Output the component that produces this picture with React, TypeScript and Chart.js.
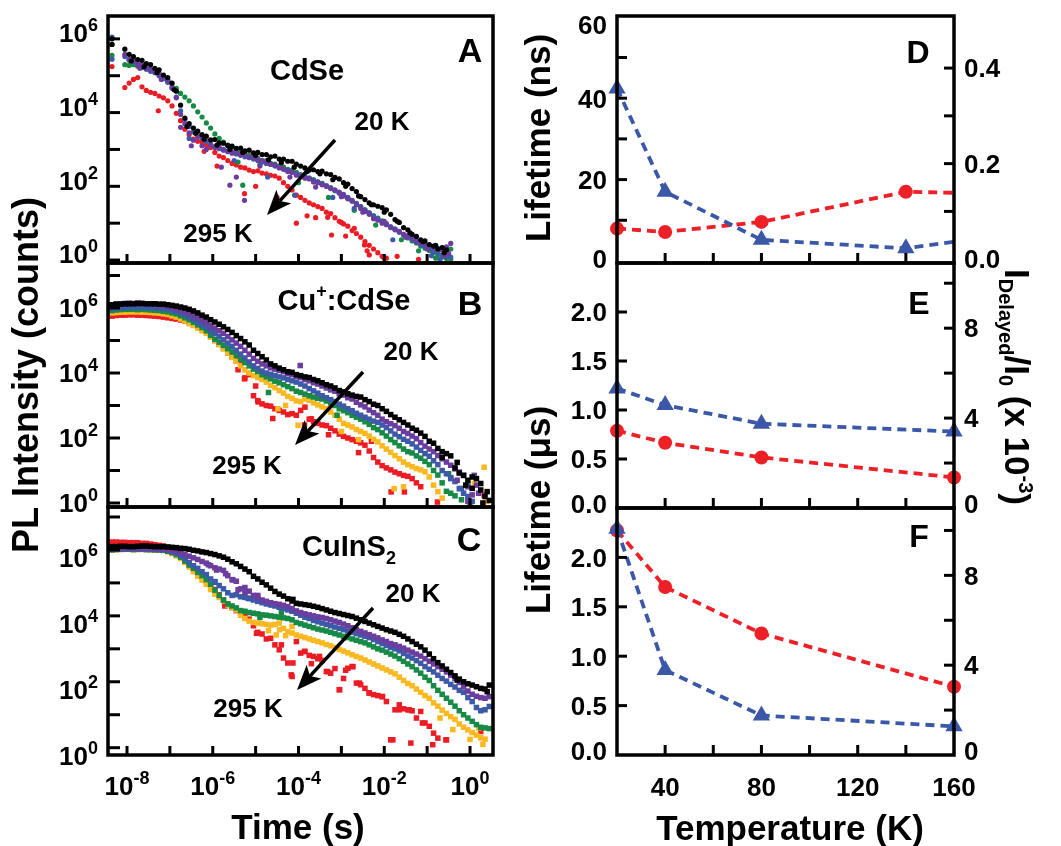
import React, { useEffect, useRef } from 'react';
import { Chart, registerables } from 'chart.js';

Chart.register(...registerables);

const W = 1061;
const H = 846;
const FONT = '"Liberation Sans", Arial, Helvetica, sans-serif';

const COL = {
  black: '#000000',
  purple: '#6a3d9e',
  blue: '#3d5aa9',
  green: '#178a45',
  yellow: '#fbb820',
  red: '#ec1c24',
};
const RED = '#ee2027';
const BLUE = '#3b58a8';

// ---------- time grid (log10 of seconds) shared by panels A-C ----------
const GRID_LOG_T = [-8.35,-8.25,-8.15,-8.05,-7.95,-7.85,-7.75,-7.65,-7.55,-7.45,-7.35,-7.25,-7.15,-7.05,-6.95,-6.85,-6.75,-6.65,-6.55,-6.45,-6.35,-6.25,-6.15,-6.05,-5.95,-5.85,-5.75,-5.65,-5.55,-5.45,-5.35,-5.25,-5.15,-5.05,-4.95,-4.85,-4.75,-4.65,-4.55,-4.45,-4.35,-4.25,-4.15,-4.05,-3.95,-3.85,-3.75,-3.65,-3.55,-3.45,-3.35,-3.25,-3.15,-3.05,-2.95,-2.85,-2.75,-2.65,-2.55,-2.45,-2.35,-2.25,-2.15,-2.05,-1.95,-1.85,-1.75,-1.65,-1.55,-1.45,-1.35,-1.25,-1.15,-1.05,-0.95,-0.85,-0.75,-0.65,-0.55,-0.45,-0.35,-0.25,-0.15,-0.05,0.05,0.15,0.25,0.35,0.45];

// ---------- Panel A: CdSe, log10(counts) ----------
const A_BLACK = [6.00,null,null,5.72,5.58,5.52,5.44,5.42,5.33,5.30,
  5.20,5.16,5.02,4.95,4.80,4.58,4.20,3.85,3.70,3.58,
  3.50,3.40,3.36,3.26,3.27,3.18,3.17,3.11,3.09,3.03,
  3.04,2.96,2.98,2.91,2.92,2.86,2.86,2.80,2.82,2.74,
  2.74,2.68,2.68,2.60,2.55,2.50,2.44,2.45,2.40,2.41,
  2.34,2.32,2.24,2.20,2.10,2.06,1.94,1.86,1.72,1.64,
  1.55,1.50,1.46,1.42,1.36,1.24,1.10,1.02,0.88,0.82,
  0.70,0.64,0.55,0.52,0.42,0.38,0.30,0.34,0.28];
const A_BLACK_EXTRA = [[-8.35,5.85],[-7.90,5.40],[-7.60,5.24],[-7.30,5.08],[-6.90,4.62],[-6.60,3.62],[-6.40,3.44],[-6.20,3.28],[-5.90,3.12],[-5.60,3.00],[-5.30,2.92],[-5.00,2.84],[-4.70,2.72],[-4.40,2.64],[-4.10,2.52],[-3.80,2.40],[-3.50,2.34],[-3.20,2.18],[-2.90,2.00],[-2.60,1.74],[-2.30,1.50],[-2.00,1.30],[-1.70,1.05],[-1.40,0.74],[-1.10,0.50],[-0.80,0.40],[-0.60,0.20]];

const A_PURPLE = [5.85,null,null,5.58,5.45,5.40,5.30,5.30,5.20,5.18,
  5.10,5.05,4.96,4.88,4.70,4.40,3.95,3.70,3.45,3.25,
  3.35,3.10,3.00,3.12,3.05,3.08,2.98,2.96,2.90,2.92,
  2.84,2.86,2.78,2.80,2.72,2.70,2.66,2.60,2.58,2.50,
  2.48,2.40,2.38,2.30,2.28,2.22,2.20,2.12,2.10,2.04,
  2.00,1.94,1.90,1.82,1.76,1.66,1.60,1.50,1.40,1.32,
  1.24,1.12,1.08,1.00,0.96,0.88,0.82,0.78,0.70,0.66,
  0.60,0.52,0.48,0.44,0.40,0.34,0.32,0.28,0.36,0.45];
const A_PURPLE_EXTRA = [[-5.26,1.62],[-5.45,2.25],[-5.60,2.03],[-5.80,2.52],[-6.50,3.10],[-6.75,3.60],[-4.90,2.55],[-4.20,2.25],[-3.60,1.98],[-3.00,1.72],[-2.50,1.30],[-2.00,1.05],[-1.50,0.62],[-1.00,0.30],[-0.60,0.12],[-0.50,0.18],[-7.70,5.20],[-7.20,4.90]];

const A_BLUE = [5.45,null,null,5.52,5.42,5.38,5.32,5.24,5.18,5.12,
  5.08,5.00,4.92,4.82,4.66,4.42,4.05,3.82,3.62,3.48,
  3.38,3.30,3.22,3.15,3.08,3.02,3.00,2.94,2.92,2.88,
  2.86,2.80,2.78,2.74,2.70,2.66,2.62,2.60,2.55,2.52,
  2.46,2.44,2.38,2.34,2.30,2.24,2.22,2.16,2.12,2.06,
  2.02,1.96,1.90,1.84,1.78,1.70,1.62,1.54,1.45,1.36,
  1.28,1.20,1.12,1.04,0.98,0.90,0.84,0.76,0.70,0.62,
  0.56,0.48,0.42,0.36,0.30,0.24,0.20,0.14,0.10,0.08];
const A_BLUE_EXTRA = [[-8.35,6.05],[-4.72,2.25],[-4.09,1.76],[-3.20,1.70],[-1.80,0.55],[-0.90,0.12],[-6.55,3.30],[-5.50,2.70],[-2.70,1.40],[-0.70,0.02]];

const A_GREEN = [5.55,null,null,5.30,5.28,5.30,5.26,5.22,5.18,5.14,
  5.10,5.05,4.98,4.88,4.78,4.66,4.52,4.42,4.32,4.18,
  4.02,3.88,3.72,3.58,3.42,3.30,3.20,3.12,3.06,3.00,
  2.92,2.86,2.84,2.78,2.76,2.70,2.70,2.62,2.60,2.55,
  2.52,2.46,2.44,2.38,2.32,2.28,2.22,2.18,2.12,2.08,
  2.00,1.96,1.88,1.82,1.74,1.68,1.60,1.52,1.45,1.36,
  1.28,1.20,1.14,1.06,0.98,0.90,0.84,0.76,0.68,0.60,
  0.52,0.46,0.38,0.32,0.26,0.20,0.14,0.08,0.04,0.02];
const A_GREEN_EXTRA = [[-5.30,2.03],[-5.41,2.66],[-4.90,2.60],[-4.00,2.10],[-3.30,1.70],[-2.70,1.35],[-2.20,0.95],[-1.60,0.55],[-1.20,0.25],[-0.80,0.05],[-0.45,0.30]];

const A_RED = [5.25,null,null,4.68,4.80,4.90,4.95,4.70,4.60,4.55,
  4.52,4.45,4.40,4.32,4.18,3.98,3.78,3.55,3.40,3.28,
  3.22,3.20,3.12,3.05,2.92,2.82,2.78,2.70,2.62,2.58,
  2.52,2.50,2.44,2.40,2.42,2.36,2.34,2.30,2.28,2.22,
  2.10,2.00,1.90,1.76,1.70,1.62,1.55,1.50,1.45,1.40,
  1.30,1.26,1.15,1.05,0.98,0.92,0.80,0.72,0.62,0.50,
  0.40,0.30,0.20,0.10,0.05];
const A_RED_EXTRA = [[-7.27,4.05],[-5.26,1.80],[-4.05,1.00],[-3.23,0.68],[-5.00,2.00],[-4.50,1.70],[-3.80,1.20],[-3.00,1.02],[-2.40,0.25],[-2.00,0.05],[-1.70,0.10],[-6.20,2.95],[-5.90,2.55],[-4.30,2.45],[-3.60,1.15],[-2.90,0.65],[-3.32,1.16],[-2.70,0.86],[-2.46,0.41],[-2.35,0.14],[-1.20,0.02]];

// ---------- Panel B: Cu+:CdSe ----------
const B_BLACK = [6.10,6.12,6.12,6.13,6.13,6.13,6.14,6.14,6.13,6.13,
  6.13,6.12,6.12,6.10,6.08,6.06,6.03,6.00,5.96,5.91,
  5.85,5.78,5.72,5.64,5.57,5.50,5.42,5.34,5.25,5.15,
  5.06,4.96,4.86,4.70,4.60,4.50,4.40,4.28,4.22,4.15,
  4.10,4.04,4.02,3.95,3.92,3.88,3.86,3.80,3.76,3.70,
  3.64,3.60,3.54,3.46,3.42,3.36,3.32,3.28,3.26,3.18,
  3.12,3.04,3.00,2.90,2.82,2.72,2.64,2.56,2.48,2.40,
  2.30,2.24,2.15,2.05,1.90,1.84,1.68,1.58,1.52,1.45,
  1.08,0.92,0.85,0.70,0.45,0.75,0.40,0.20,0.08];
const B_BLACK_EXTRA = [[-0.30,1.25],[-0.10,0.55],[0.05,0.80],[0.25,0.60],[0.40,0.35],[0.30,0.00],[-0.65,1.40]];

const B_PURPLE = [6.10,6.12,6.13,6.14,6.15,6.14,6.15,6.14,6.13,6.12,
  6.12,6.10,6.08,6.05,6.02,5.98,5.93,5.88,5.82,5.76,
  5.70,5.62,5.55,5.46,5.38,5.30,5.22,5.12,5.02,4.92,
  4.82,4.70,4.58,4.45,4.36,4.28,4.22,4.16,4.12,4.08,
  4.04,3.98,3.95,3.90,3.86,3.80,3.76,3.70,3.66,3.60,
  3.54,3.48,3.44,3.36,3.32,3.24,3.20,3.10,3.02,2.96,
  2.86,2.78,2.70,2.58,2.50,2.44,2.38,2.30,2.20,2.14,
  2.06,1.98,1.86,1.75,1.66,1.58,1.46,1.36,1.26,1.16,
  1.05,0.95,0.85,0.50,0.25,0.55];
const B_PURPLE_EXTRA = [[-3.96,4.23],[-0.30,0.70],[0.10,0.85],[-0.05,0.05],[0.20,0.30]];

const B_BLUE = [5.98,6.00,6.01,6.02,6.02,6.03,6.02,6.03,6.02,6.01,
  6.00,5.99,5.98,5.96,5.93,5.90,5.85,5.80,5.72,5.65,
  5.56,5.48,5.40,5.30,5.22,5.12,5.02,4.92,4.82,4.70,
  4.58,4.46,4.34,4.22,4.14,4.06,4.00,3.96,3.92,3.88,
  3.85,3.80,3.76,3.72,3.66,3.60,3.52,3.45,3.38,3.30,
  3.24,3.18,3.12,3.04,2.98,2.90,2.84,2.76,2.70,2.64,
  2.58,2.52,2.48,2.40,2.32,2.22,2.12,2.04,1.96,1.90,
  1.82,1.72,1.62,1.52,1.44,1.30,1.18,1.00,0.90,0.78,
  0.66,0.44,0.30,0.20,0.05];
const B_BLUE_EXTRA = [[-0.45,0.75],[-0.20,0.45]];

const B_GREEN = [5.92,5.94,5.95,5.96,5.96,5.96,5.95,5.96,5.95,5.94,
  5.93,5.92,5.90,5.88,5.85,5.82,5.76,5.70,5.64,5.56,
  5.48,5.40,5.30,5.16,5.04,4.95,4.85,4.75,4.65,4.54,
  4.42,4.32,4.22,4.12,4.04,3.95,3.88,3.82,3.75,3.70,
  3.64,3.58,3.52,3.44,3.40,3.35,3.30,3.26,3.22,3.20,
  3.14,3.08,3.00,2.90,2.84,2.78,2.70,2.64,2.58,2.50,
  2.42,2.32,2.26,2.16,2.06,1.95,1.86,1.76,1.66,1.58,
  1.54,1.45,1.38,1.28,1.18,1.00,0.86,0.62,0.36,0.30,
  0.22];
const B_GREEN_EXTRA = [[-0.20,0.10],[-0.05,0.55],[0.00,0.00],[-0.50,0.90],[-4.70,3.40],[-3.10,2.70]];

const B_YELLOW = [5.85,5.86,5.87,5.87,5.88,5.88,5.88,5.87,5.87,5.86,
  5.85,5.84,5.82,5.80,5.76,5.72,5.66,5.60,5.52,5.46,
  5.38,5.30,5.22,5.10,5.00,4.88,4.74,4.62,4.48,4.36,
  4.22,4.10,4.00,3.92,3.86,3.80,3.72,3.62,3.55,3.46,
  3.38,3.28,3.22,3.14,3.12,3.20,3.16,3.08,3.02,2.96,
  2.90,2.80,2.70,2.58,2.45,2.40,2.34,2.26,2.20,2.14,
  2.06,1.96,1.88,1.76,1.66,1.56,1.46,1.36,1.26,1.18,
  1.12,1.06,1.02,0.96,0.80,0.55,0.35,0.15];
const B_YELLOW_EXTRA = [[-4.48,2.90],[-4.01,2.39],[-1.77,0.44],[-1.55,0.50],[0.33,1.10],[0.40,0.05],[-3.00,2.20],[-2.60,1.95],[0.10,0.60],[-4.30,3.00]];

const B_RED = [5.75,5.77,5.78,5.78,5.79,5.79,5.78,5.78,5.77,5.76,
  5.75,5.74,5.72,5.70,5.68,5.66,5.63,5.60,5.56,5.48,
  5.42,5.36,5.28,5.12,5.00,4.88,4.76,4.62,4.50,4.38,
  4.30,3.85,3.95,3.30,3.15,3.05,3.00,2.98,2.90,2.85,
  2.80,2.72,2.75,2.70,2.85,2.95,2.58,2.50,2.45,2.40,
  2.38,2.30,2.22,2.12,2.05,2.00,1.95,1.90,1.85,1.78,
  1.60,1.40,1.26,1.15,1.08,1.02,0.95,0.90,0.85,0.82,
  0.75,0.62,0.50];
const B_RED_EXTRA = [[-5.26,3.82],[-5.41,4.10],[-5.00,3.60],[-4.60,2.60],[-3.70,2.59],[-3.30,2.10],[-1.84,0.34],[-1.53,0.34],[-0.76,0.03],[0.33,0.24],[-2.30,1.90],[-2.60,1.55],[-4.94,3.11],[-3.86,2.40]];

// ---------- Panel C: CuInS2 ----------
const C_BLACK = [6.10,6.10,6.11,6.11,6.10,6.10,6.11,6.12,6.12,6.11,
  6.10,6.10,6.10,6.09,6.08,6.07,6.05,6.04,6.02,5.99,
  5.97,5.94,5.92,5.89,5.86,5.82,5.78,5.72,5.64,5.58,
  5.50,5.42,5.34,5.20,5.12,5.02,4.94,4.84,4.74,4.66,
  4.60,4.52,4.45,4.38,4.36,4.34,4.32,4.29,4.26,4.22,
  4.18,4.14,4.10,4.07,4.04,4.01,3.98,3.93,3.88,3.83,
  3.78,3.73,3.68,3.63,3.58,3.54,3.50,3.44,3.38,3.30,
  3.22,3.14,3.06,2.96,2.84,2.70,2.58,2.48,2.38,2.28,
  2.18,2.08,2.00,1.94,1.90,1.85,1.80,1.78,1.90];
const C_BLACK_EXTRA = [[-4.13,4.50],[-0.30,2.05],[0.40,1.70]];

const C_PURPLE = [6.04,6.05,6.05,6.06,6.05,6.05,6.06,6.05,6.05,6.05,
  6.04,6.04,6.03,6.02,5.99,5.96,5.91,5.86,5.81,5.76,
  5.71,5.65,5.60,5.52,5.46,5.42,5.38,5.22,5.10,5.05,
  4.82,4.86,4.75,4.62,4.56,4.48,4.44,4.40,4.37,4.35,
  4.32,4.28,4.22,4.15,4.10,4.06,4.03,4.00,3.97,3.95,
  3.92,3.88,3.84,3.80,3.75,3.70,3.64,3.58,3.53,3.48,
  3.43,3.38,3.33,3.27,3.22,3.16,3.12,3.07,3.02,2.96,
  2.90,2.84,2.78,2.70,2.62,2.54,2.46,2.38,2.30,2.20,
  2.10,1.98,1.85,1.72,1.62,1.56,1.52,1.50,1.55];
const C_PURPLE_EXTRA = [[-5.91,5.39],[-5.53,5.09],[-5.41,4.79],[-5.25,4.70],[-4.95,4.62],[-6.10,5.55],[-5.70,5.28]];

const C_BLUE = [6.02,6.03,6.03,6.03,6.04,6.03,6.03,6.03,6.02,6.02,
  6.02,6.01,6.00,5.98,5.95,5.90,5.84,5.74,5.62,5.52,
  5.44,5.34,5.25,5.12,5.02,4.92,4.82,4.70,4.62,4.64,
  4.58,4.56,4.52,4.48,4.44,4.40,4.36,4.34,4.30,4.26,
  4.22,4.18,4.14,4.08,4.02,3.96,3.92,3.86,3.82,3.78,
  3.74,3.70,3.66,3.62,3.58,3.54,3.50,3.46,3.42,3.38,
  3.34,3.28,3.22,3.16,3.10,3.04,3.00,2.94,2.86,2.78,
  2.72,2.64,2.56,2.46,2.38,2.30,2.20,2.10,2.02,1.92,
  1.84,1.74,1.68,1.52,1.40,1.22,1.12,1.15,1.25];
const C_BLUE_EXTRA = [[-5.95,5.04],[-5.18,4.54],[-4.63,4.33]];

const C_GREEN = [6.00,6.01,6.02,6.02,6.02,6.01,6.02,6.02,6.01,6.01,
  6.00,6.00,5.99,5.96,5.92,5.86,5.78,5.66,5.54,5.44,
  5.32,5.22,5.10,4.96,4.78,4.62,4.48,4.36,4.30,4.24,
  4.16,4.14,4.10,4.08,4.06,4.03,4.02,4.00,3.98,3.96,
  3.94,3.92,3.88,3.80,3.76,3.72,3.68,3.64,3.60,3.57,
  3.54,3.50,3.46,3.42,3.38,3.34,3.30,3.26,3.22,3.18,
  3.12,3.06,3.00,2.96,2.90,2.84,2.78,2.70,2.62,2.54,
  2.46,2.36,2.26,2.14,2.04,1.88,1.74,1.62,1.50,1.38,
  1.26,1.12,1.00,0.90,0.80,0.70,0.62,0.60,0.58];
const C_GREEN_EXTRA = [[-4.40,4.10],[-4.90,3.95]];

const C_YELLOW = [6.00,6.01,6.01,6.02,6.02,6.01,6.01,6.02,6.01,6.00,
  6.00,5.99,5.98,5.94,5.89,5.82,5.74,5.62,5.48,5.34,
  5.20,5.08,4.96,4.80,4.66,4.56,4.46,4.33,4.26,4.18,
  4.02,3.92,3.84,3.80,3.78,3.76,3.74,3.72,3.74,3.78,
  3.62,3.52,3.48,3.42,3.38,3.34,3.30,3.26,3.22,3.18,
  3.13,3.09,3.04,2.98,2.93,2.88,2.82,2.77,2.72,2.66,
  2.60,2.54,2.48,2.42,2.36,2.30,2.24,2.14,2.04,1.95,
  1.88,1.78,1.68,1.58,1.50,1.36,1.26,1.14,1.04,0.94,
  0.86,0.72,0.62,0.54,0.46,0.38,0.30,0.26];
const C_YELLOW_EXTRA = [[-4.52,3.42],[-4.44,3.58],[-4.30,3.40],[-0.40,0.55],[0.00,0.25],[0.30,0.10],[0.20,0.60],[-0.70,0.90],[-4.70,3.55],[-4.15,3.68]];

const C_RED = [6.24,6.24,6.23,6.23,6.22,6.22,6.22,6.20,6.20,6.18,
  6.16,6.14,6.12,6.08,6.02,5.95,5.86,5.72,5.56,5.44,
  5.32,5.18,5.04,4.94,4.80,4.64,4.48,4.36,4.25,4.16,
  4.08,3.98,3.90,3.70,3.50,3.45,3.30,3.32,3.12,2.97,
  2.72,2.57,2.16,3.22,2.87,2.92,2.80,2.77,2.70,2.65,
  2.31,2.26,2.40,1.76,2.10,2.41,2.46,1.96,1.91,1.80,
  1.66,1.61,1.58,1.55,1.40,0.24,1.15,1.30,1.18,1.15,
  1.12,0.90,1.10,0.75,0.65,0.44,0.29,null,0.24];
const C_RED_EXTRA = [[-5.72,4.30],[-4.98,3.47],[-4.40,3.12],[-4.17,2.21],[-3.86,2.92],[-3.51,2.77],[-3.32,2.31],[-3.04,1.76],[-2.73,2.46],[-2.58,1.96],[-2.35,1.66],[-2.04,1.55],[-1.80,0.24],[-1.38,0.14],[-0.87,0.09],[-0.56,0.24],[0.25,0.49],[-1.11,0.75],[-2.90,2.35],[-3.70,2.55],[-4.13,2.57],[-1.65,1.15],[-1.42,1.15]];

// ---------- Panels D-F: temperature dependence ----------
const D_TEMPS = [20, 40, 80, 140, 160];
const D_LIFETIME_NS = [42.4, 17.0, 5.2, 3.1, 4.7];
const D_RATIO = [0.064, 0.057, 0.078, 0.141, 0.139];
const EF_TEMPS = [20, 40, 80, 160];
const E_LIFETIME_US = [1.22, 1.05, 0.86, 0.78];
const E_RATIO = [3.44, 2.90, 2.25, 1.36];
const F_LIFETIME_US = [2.29, 0.86, 0.40, 0.29];
const F_RATIO = [10.0, 7.48, 5.41, 3.04];

// tick values
const LOG_X_TICKS = [-8, -7, -6, -5, -4, -3, -2, -1, 0];
const LOG_X_LABELS = [-8, -6, -4, -2, 0];
const LOG_Y_LABELS = [0, 2, 4, 6];
const T_TICKS = [40, 60, 80, 100, 120, 140];
const T_LABELS = [40, 80, 120, 160];

const X_MIN_EXP = -8.443;
const X_MAX_EXP = 0.536;

// ---------- drawing helpers ----------
type Part = { t: string; s: number; dy?: number };

function drawRich(ctx: CanvasRenderingContext2D, parts: Part[], cx: number, cy: number, rot: number, base: number, align = 'center') {
  ctx.save();
  ctx.translate(cx, cy);
  ctx.rotate(rot);
  let total = 0;
  const widths: number[] = [];
  for (const p of parts) {
    ctx.font = `bold ${p.s}px ${FONT}`;
    const w = ctx.measureText(p.t).width;
    widths.push(w);
    total += w;
  }
  let x = align === 'center' ? -total / 2 : align === 'right' ? -total : 0;
  ctx.fillStyle = '#000';
  ctx.textAlign = 'left';
  ctx.textBaseline = 'alphabetic';
  parts.forEach((p, i) => {
    ctx.font = `bold ${p.s}px ${FONT}`;
    ctx.fillText(p.t, x, 0.358 * base + (p.dy || 0));
    x += widths[i];
  });
  ctx.restore();
}

function txt(ctx: CanvasRenderingContext2D, s: string, x: number, y: number, size: number, align = 'center') {
  drawRich(ctx, [{ t: s, s: size }], x, y, 0, size, align);
}

function pow10(ctx: CanvasRenderingContext2D, e: number, x: number, y: number, align: string) {
  drawRich(ctx, [{ t: '10', s: 26 }, { t: String(e), s: 18, dy: -11 }], x, y, 0, 26, align);
}

function line(ctx: CanvasRenderingContext2D, x1: number, y1: number, x2: number, y2: number) {
  ctx.beginPath();
  ctx.moveTo(x1, y1);
  ctx.lineTo(x2, y2);
  ctx.stroke();
}

function arrow(ctx: CanvasRenderingContext2D, x1: number, y1: number, x2: number, y2: number) {
  const a = Math.atan2(y2 - y1, x2 - x1);
  const c = Math.cos(a), s = Math.sin(a);
  const L = 25, Wd = 10;
  ctx.save();
  ctx.strokeStyle = '#000';
  ctx.fillStyle = '#000';
  ctx.lineWidth = 3.5;
  line(ctx, x1, y1, x2 - (L - 6) * c, y2 - (L - 6) * s);
  const bx = x2 - L * c, by = y2 - L * s;
  ctx.beginPath();
  ctx.moveTo(x2, y2);
  ctx.lineTo(bx - Wd * s, by + Wd * c);
  ctx.lineTo(x2 - (L - 6) * c, y2 - (L - 6) * s);
  ctx.lineTo(bx + Wd * s, by - Wd * c);
  ctx.closePath();
  ctx.fill();
  ctx.restore();
}

function makePoints(logI: (number | null)[], extra: number[][]) {
  const pts: { x: number; y: number }[] = [];
  logI.forEach((v, i) => {
    if (v !== null && v !== undefined) pts.push({ x: 10 ** GRID_LOG_T[i], y: 10 ** v });
  });
  extra.forEach(([t, v]) => pts.push({ x: 10 ** t, y: 10 ** v }));
  return pts;
}

// ---------- configs ----------
function leftConfig(p: any) {
  return {
    type: 'scatter',
    data: {
      datasets: p.series.map((s: any) => ({
        data: makePoints(s.logI, s.extra),
        pointBackgroundColor: s.color,
        pointBorderColor: s.color,
        backgroundColor: s.color,
        borderColor: s.color,
        pointBorderWidth: 0,
        pointStyle: p.style,
        pointRadius: p.radius,
        pointHoverRadius: p.radius,
        showLine: false,
      })),
    },
    options: {
      responsive: false,
      animation: false,
      devicePixelRatio: 1,
      events: [],
      layout: { padding: { left: p.x0, top: p.y0, right: W - p.x1, bottom: H - p.y1 } },
      scales: {
        x: { type: 'logarithmic', display: false, min: 10 ** X_MIN_EXP, max: 10 ** X_MAX_EXP },
        y: { type: 'logarithmic', display: false, min: 10 ** p.yMinExp, max: 10 ** p.yMaxExp },
      },
      plugins: { legend: { display: false }, tooltip: { enabled: false }, title: { display: false } },
    },
    plugins: [
      {
        id: 'leftDecor',
        afterDatasetsDraw(chart: any) {
          const { ctx, chartArea: a, scales } = chart;
          ctx.save();
          ctx.strokeStyle = '#000';
          ctx.lineWidth = 3;
          for (let e = Math.ceil(p.yMinExp); e <= Math.floor(p.yMaxExp); e++) {
            const y = scales.y.getPixelForValue(10 ** e);
            line(ctx, a.left, y, a.left + 12, y);
          }
          LOG_X_TICKS.forEach((e) => {
            const x = scales.x.getPixelForValue(10 ** e);
            line(ctx, x, a.bottom, x, a.bottom - 9);
          });
          ctx.lineWidth = 3.5;
          ctx.strokeRect(a.left, a.top, a.right - a.left, a.bottom - a.top);
          LOG_Y_LABELS.forEach((e) => {
            const y = scales.y.getPixelForValue(10 ** e);
            pow10(ctx, e, a.left - 10, y + p.labelDy, 'right');
          });
          if (p.xLabels) {
            LOG_X_LABELS.forEach((e) => {
              const x = scales.x.getPixelForValue(10 ** e);
              pow10(ctx, e, x, 786, 'center');
            });
          }
          p.draw(ctx);
          ctx.restore();
        },
      },
    ],
  };
}

function rightConfig(p: any) {
  const dash = [9, 6];
  return {
    type: 'line',
    data: {
      datasets: [
        {
          data: p.temps.map((t: number, i: number) => ({ x: t, y: p.blue[i] })),
          yAxisID: 'y',
          borderColor: BLUE,
          backgroundColor: BLUE,
          pointBackgroundColor: BLUE,
          pointBorderWidth: 0,
          borderWidth: 3.8,
          borderDash: dash,
          pointStyle: 'triangle',
          pointRadius: p.blueRadius,
          tension: 0,
          fill: false,
          clip: false,
        },
        {
          data: p.temps.map((t: number, i: number) => ({ x: t, y: p.red[i] })),
          yAxisID: 'y1',
          borderColor: RED,
          backgroundColor: RED,
          pointBackgroundColor: RED,
          pointBorderWidth: 0,
          borderWidth: 3.8,
          borderDash: dash,
          pointStyle: 'circle',
          pointRadius: p.redRadius,
          tension: 0,
          fill: false,
          clip: false,
        },
      ],
    },
    options: {
      responsive: false,
      animation: false,
      devicePixelRatio: 1,
      events: [],
      layout: { padding: { left: 617, top: p.y0, right: W - 954, bottom: H - p.y1 } },
      scales: {
        x: { type: 'linear', display: false, min: 20, max: 160 },
        y: { type: 'linear', display: false, min: p.yMin, max: p.yMax },
        y1: { type: 'linear', display: false, position: 'right', min: p.y1Min, max: p.y1Max },
      },
      plugins: { legend: { display: false }, tooltip: { enabled: false }, title: { display: false } },
    },
    plugins: [
      {
        id: 'rightDecor',
        afterDatasetsDraw(chart: any) {
          const { ctx, chartArea: a, scales } = chart;
          ctx.save();
          ctx.strokeStyle = '#000';
          ctx.lineWidth = 3;
          p.leftTicks.forEach((v: number) => {
            const y = scales.y.getPixelForValue(v);
            line(ctx, a.left, y, a.left + 10, y);
          });
          p.rightTicks.forEach((v: number) => {
            const y = scales.y1.getPixelForValue(v);
            line(ctx, a.right, y, a.right - 10, y);
          });
          T_TICKS.forEach((v) => {
            const x = scales.x.getPixelForValue(v);
            line(ctx, x, a.bottom, x, a.bottom - 10);
          });
          ctx.lineWidth = 3.5;
          ctx.strokeRect(a.left, a.top, a.right - a.left, a.bottom - a.top);
          const clamp = (y: number) => Math.max(a.top + 9, Math.min(a.bottom - 4, y));
          p.leftLabels.forEach((v: number) => {
            txt(ctx, p.leftFmt(v), a.left - 10, clamp(scales.y.getPixelForValue(v)), 26, 'right');
          });
          p.rightLabels.forEach((v: number) => {
            txt(ctx, p.rightFmt(v), a.right + 10, clamp(scales.y1.getPixelForValue(v)), 26, 'left');
          });
          if (p.xLabels) {
            T_LABELS.forEach((v) => {
              txt(ctx, String(v), scales.x.getPixelForValue(v), 787, 26, 'center');
            });
          }
          p.draw(ctx);
          ctx.restore();
        },
      },
    ],
  };
}

const configs = [
  leftConfig({
    x0: 108, x1: 493, y0: 16, y1: 263, yMinExp: -0.08, yMaxExp: 6.62, style: 'circle', radius: 2.6, labelDy: -6, xLabels: false,
    series: [
      { color: COL.black, logI: A_BLACK, extra: A_BLACK_EXTRA },
      { color: COL.purple, logI: A_PURPLE, extra: A_PURPLE_EXTRA },
      { color: COL.blue, logI: A_BLUE, extra: A_BLUE_EXTRA },
      { color: COL.green, logI: A_GREEN, extra: A_GREEN_EXTRA },
      { color: COL.red, logI: A_RED, extra: A_RED_EXTRA },
    ],
    draw: (ctx: CanvasRenderingContext2D) => {
      txt(ctx, 'CdSe', 307, 70, 29);
      txt(ctx, 'A', 470, 50, 34);
      txt(ctx, '20 K', 382, 121, 26);
      txt(ctx, '295 K', 218, 233, 26);
      arrow(ctx, 335, 140, 267, 215);
    },
  }),
  leftConfig({
    x0: 108, x1: 493, y0: 263, y1: 507, yMinExp: -0.123, yMaxExp: 7.385, style: 'rect', radius: 3.9, labelDy: 0, xLabels: false,
    series: [
      { color: COL.black, logI: B_BLACK, extra: B_BLACK_EXTRA },
      { color: COL.purple, logI: B_PURPLE, extra: B_PURPLE_EXTRA },
      { color: COL.blue, logI: B_BLUE, extra: B_BLUE_EXTRA },
      { color: COL.green, logI: B_GREEN, extra: B_GREEN_EXTRA },
      { color: COL.yellow, logI: B_YELLOW, extra: B_YELLOW_EXTRA },
      { color: COL.red, logI: B_RED, extra: B_RED_EXTRA },
    ],
    draw: (ctx: CanvasRenderingContext2D) => {
      drawRich(ctx, [{ t: 'Cu', s: 29 }, { t: '+', s: 18, dy: -13 }, { t: ':CdSe', s: 29 }], 344, 300, 0, 29);
      txt(ctx, 'B', 470, 303, 34);
      txt(ctx, '20 K', 411, 351, 26);
      txt(ctx, '295 K', 247, 465, 26);
      arrow(ctx, 363, 372, 295, 445);
    },
  }),
  leftConfig({
    x0: 108, x1: 493, y0: 507, y1: 755, yMinExp: -0.212, yMaxExp: 7.303, style: 'rect', radius: 3.9, labelDy: 8, xLabels: true,
    series: [
      { color: COL.black, logI: C_BLACK, extra: C_BLACK_EXTRA },
      { color: COL.purple, logI: C_PURPLE, extra: C_PURPLE_EXTRA },
      { color: COL.blue, logI: C_BLUE, extra: C_BLUE_EXTRA },
      { color: COL.green, logI: C_GREEN, extra: C_GREEN_EXTRA },
      { color: COL.yellow, logI: C_YELLOW, extra: C_YELLOW_EXTRA },
      { color: COL.red, logI: C_RED, extra: C_RED_EXTRA },
    ],
    draw: (ctx: CanvasRenderingContext2D) => {
      drawRich(ctx, [{ t: 'CuInS', s: 29 }, { t: '2', s: 18, dy: 8 }], 349, 546, 0, 29);
      txt(ctx, 'C', 469, 539, 34);
      txt(ctx, '20 K', 413, 593, 26);
      txt(ctx, '295 K', 248, 708, 26);
      arrow(ctx, 373, 608, 297, 690);
      drawRich(ctx, [{ t: 'PL Intensity (counts)', s: 36 }], 25, 375, -Math.PI / 2, 36);
      txt(ctx, 'Time (s)', 298, 826, 35);
    },
  }),
  rightConfig({
    y0: 16, y1: 263, yMin: -0.5, yMax: 60.2, y1Min: -0.008, y1Max: 0.509,
    temps: D_TEMPS, blue: D_LIFETIME_NS, red: D_RATIO,
    blueRadius: [10, 10, 10, 10, 0], redRadius: [7, 7, 7, 7, 0],
    leftTicks: [10, 20, 30, 40, 50], leftLabels: [0, 20, 40, 60], leftFmt: (v: number) => String(v),
    rightTicks: [0.1, 0.2, 0.3, 0.4], rightLabels: [0, 0.2, 0.4], rightFmt: (v: number) => v.toFixed(1),
    xLabels: false,
    draw: (ctx: CanvasRenderingContext2D) => {
      txt(ctx, 'D', 918, 52, 32);
      drawRich(ctx, [{ t: 'Lifetime (ns)', s: 35 }], 537, 138, -Math.PI / 2, 35);
    },
  }),
  rightConfig({
    y0: 263, y1: 508, yMin: 0, yMax: 2.5, y1Min: 0, y1Max: 10.9,
    temps: EF_TEMPS, blue: E_LIFETIME_US, red: E_RATIO,
    blueRadius: 10, redRadius: 7,
    leftTicks: [0.5, 1.0, 1.5, 2.0], leftLabels: [0, 0.5, 1.0, 1.5, 2.0], leftFmt: (v: number) => v.toFixed(1),
    rightTicks: [2, 4, 6, 8, 10], rightLabels: [0, 4, 8], rightFmt: (v: number) => String(v),
    xLabels: false,
    draw: (ctx: CanvasRenderingContext2D) => {
      txt(ctx, 'E', 919, 303, 32);
      drawRich(ctx, [
        { t: 'I', s: 35 },
        { t: 'Delayed', s: 20, dy: 6 },
        { t: '/I', s: 35 },
        { t: '0', s: 20, dy: 6 },
        { t: ' (x 10', s: 35 },
        { t: '-3', s: 20, dy: -14 },
        { t: ')', s: 35 },
      ], 1018, 387, Math.PI / 2, 35);
    },
  }),
  rightConfig({
    y0: 508, y1: 755, yMin: 0, yMax: 2.5, y1Min: 0, y1Max: 11.0,
    temps: EF_TEMPS, blue: F_LIFETIME_US, red: F_RATIO,
    blueRadius: 10, redRadius: 7,
    leftTicks: [0.5, 1.0, 1.5, 2.0], leftLabels: [0, 0.5, 1.0, 1.5, 2.0], leftFmt: (v: number) => v.toFixed(1),
    rightTicks: [2, 4, 6, 8, 10], rightLabels: [0, 4, 8], rightFmt: (v: number) => String(v),
    xLabels: true,
    draw: (ctx: CanvasRenderingContext2D) => {
      txt(ctx, 'F', 919, 536, 32);
      drawRich(ctx, [{ t: 'Lifetime (\u03bcs)', s: 35 }], 537, 510, -Math.PI / 2, 35);
      txt(ctx, 'Temperature (K)', 790, 827, 35);
    },
  }),
];

export default function App() {
  const canvases = useRef<(HTMLCanvasElement | null)[]>([]);
  useEffect(() => {
    const charts = configs.map((cfg, i) => new Chart(canvases.current[i] as HTMLCanvasElement, cfg as any));
    return () => charts.forEach((c) => c.destroy());
  }, []);
  return (
    <div style={{ position: 'absolute', left: 0, top: 0, width: W, height: H, background: '#fff', overflow: 'hidden' }}>
      {configs.map((_, i) => (
        <canvas
          key={i}
          ref={(el) => {
            canvases.current[i] = el;
          }}
          width={W}
          height={H}
          style={{ position: 'absolute', left: 0, top: 0, width: W, height: H }}
        />
      ))}
    </div>
  );
}
